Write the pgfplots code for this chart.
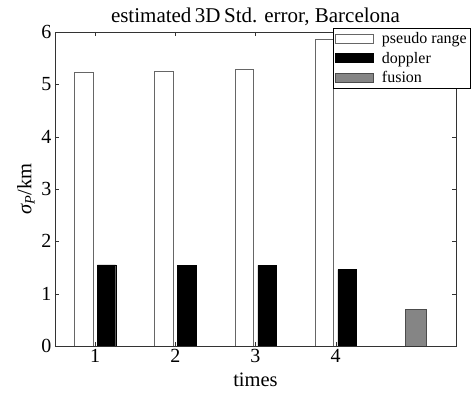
\documentclass[border=0pt]{standalone}
\usepackage{fontspec}
\setmainfont{Liberation Serif}
\usepackage{pgfplots}
\pgfplotsset{compat=1.18}
\begin{document}
\begin{tikzpicture}
\begin{axis}[
  name=ax,
  scale only axis, width=401pt, height=314pt,
  xmin=0.5, xmax=5.5, ymin=0, ymax=6,
  xtick={1,2,3,4}, ytick={0,1,2,3,4,5,6},
  axis line style={black!80}, tick style={black!80},
  tick label style={font=\fontsize{20}{20}\selectfont},
  xticklabel={\pgfmathprintnumber{\tick}},
  yticklabel={\pgfmathprintnumber{\tick}},
  /pgf/number format/assume math mode=true,
  title={estimated\,3D\,Std. error, Barcelona},
  title style={font=\fontsize{21}{21}\selectfont, yshift=-3pt},
  xlabel={times},
  xlabel style={yshift=-3pt},
  ylabel={{\itshape σ}\textsubscript{\itshape P}/km},
  label style={font=\fontsize{20.5}{20.5}\selectfont},
  legend cell align=left,
  legend style={at={(0.693,1.013)}, anchor=north west,
    font=\fontsize{16}{16}\selectfont, draw=black, line width=0.8pt,
    inner sep=2pt, row sep=3pt},
  legend image code/.code={
    \draw[#1, line width=0.6pt] (4pt,-4.5pt) rectangle (42pt,4.5pt);
    \path (48pt,0pt);},
]
\addplot[ybar, bar width=0.229, bar shift=-0.143, fill=white, draw=black!60]
  coordinates {(1,5.24) (2,5.26) (3,5.28) (4,5.86)};
\addplot[ybar, bar width=0.229, bar shift=0.143, fill=black, draw=black]
  coordinates {(1,1.55) (2,1.54) (3,1.54) (4,1.46)};
\addplot[ybar, bar width=0.262, bar shift=0, fill=black!48, draw=black!70]
  coordinates {(5,0.71)};
\legend{pseudo range, doppler, fusion}
\end{axis}
\pgfresetboundingbox
\path[use as bounding box] ([shift={(-55pt,-56pt)}]ax.south west) rectangle ++(475pt,402pt);
\end{tikzpicture}
\end{document}
